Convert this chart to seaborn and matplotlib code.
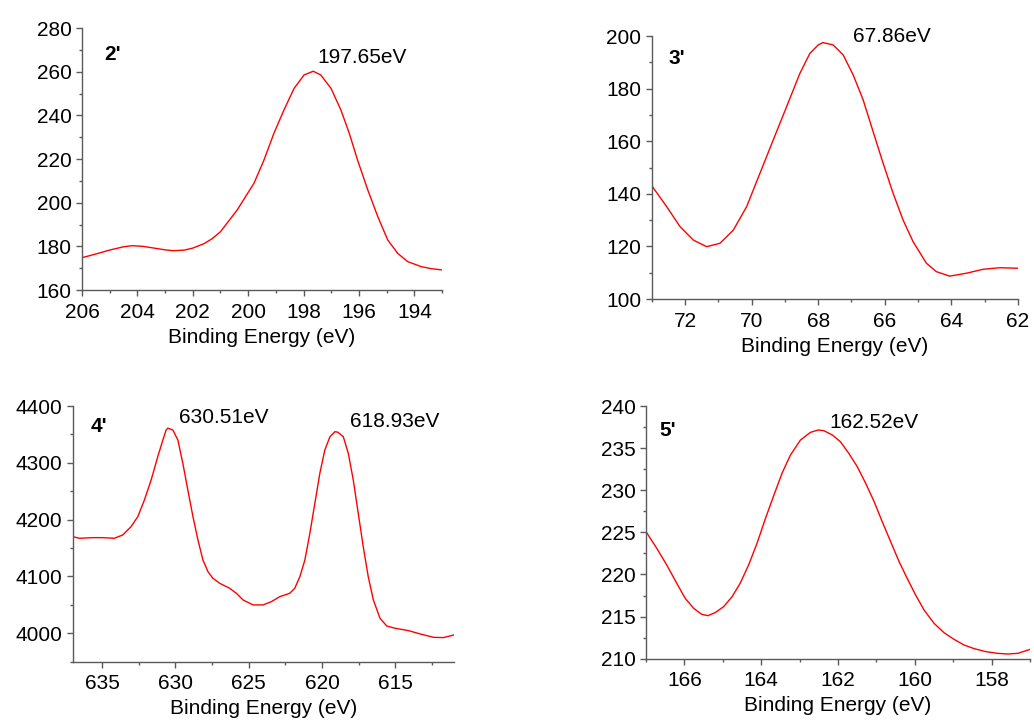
import matplotlib
matplotlib.use("Agg")
import matplotlib.pyplot as plt
from matplotlib.ticker import MultipleLocator
import pandas as pd
import seaborn as sns

sns.set_theme(style="ticks")
plt.rcParams["font.family"] = ["Liberation Sans", "DejaVu Sans"]

# Spectrum 2' (binding energy in eV, intensity)
e2 = [206.0, 205.5, 205.0, 204.5, 204.2, 203.8, 203.4, 203.0, 202.7, 202.3, 202.0,
      201.6, 201.3, 201.0, 200.4, 199.79, 199.43, 199.07, 198.71, 198.34, 197.98,
      197.65, 197.38, 197.01, 196.65, 196.35, 196.05, 195.68, 195.32, 194.96, 194.6,
      194.24, 193.75, 193.4, 193.0]
i2 = [174.8, 176.5, 178.3, 179.8, 180.3, 180.0, 179.2, 178.4, 178.0, 178.3, 179.2,
      181.2, 183.5, 186.7, 196.6, 208.9, 219.5, 231.8, 242.4, 252.4, 258.5,
      260.2, 258.5, 252.4, 242.4, 231.8, 219.5, 205.8, 193.6, 182.9, 176.8,
      173.0, 170.7, 169.8, 169.2]

# Spectrum 3'
e3 = [73.0, 72.55, 72.15, 71.75, 71.35, 70.95, 70.55, 70.15, 69.75, 69.35, 68.95,
      68.55, 68.25, 68.0, 67.86, 67.55, 67.25, 66.95, 66.65, 66.35, 66.05, 65.75,
      65.45, 65.15, 64.75, 64.45, 64.05, 63.55, 63.05, 62.55, 62.0]
i3 = [143.1, 135.1, 127.5, 122.4, 119.9, 121.2, 126.2, 135.1, 147.8, 160.5, 173.1,
      185.8, 193.4, 196.6, 197.5, 196.6, 192.8, 185.2, 175.7, 163.6, 151.6, 140.2,
      130.0, 121.8, 113.6, 110.4, 108.7, 109.8, 111.3, 111.9, 111.7]

# Spectrum 4'
e4 = [637.0, 636.55, 635.64, 634.95, 634.16, 633.59, 633.02, 632.56, 632.11, 631.65,
      631.2, 630.85, 630.63, 630.51, 630.17, 629.83, 629.49, 629.15, 628.8, 628.46,
      628.12, 627.78, 627.44, 626.98, 626.3, 625.84, 625.39, 624.7, 624.02, 623.45,
      622.88, 622.2, 621.86, 621.51, 621.17, 620.83, 620.49, 620.15, 619.81, 619.46,
      619.12, 618.93, 618.55, 618.21, 617.87, 617.53, 617.19, 616.85, 616.5, 616.05,
      615.59, 615.02, 614.11, 613.31, 612.4, 611.72, 611.0]
i4 = [4170.1, 4167.2, 4168.3, 4168.3, 4167.2, 4173.0, 4187.7, 4205.3, 4234.6, 4269.8,
      4310.9, 4340.2, 4357.8, 4361.0, 4357.8, 4340.2, 4299.1, 4252.2, 4205.3, 4164.2,
      4129.0, 4108.5, 4096.8, 4088.0, 4079.2, 4070.4, 4058.7, 4049.9, 4049.9, 4055.7,
      4064.5, 4070.4, 4079.2, 4099.7, 4129.0, 4175.9, 4228.7, 4281.5, 4322.6, 4346.0,
      4354.8, 4354.0, 4346.0, 4316.7, 4269.8, 4211.1, 4152.5, 4099.7, 4058.7, 4026.4,
      4012.9, 4008.8, 4004.7, 3998.8, 3992.9, 3992.4, 3997.1]

# Spectrum 5'
e5 = [167.0, 166.72, 166.46, 166.2, 165.98, 165.76, 165.55, 165.39, 165.2, 164.98,
      164.76, 164.55, 164.33, 164.11, 163.89, 163.67, 163.46, 163.24, 162.98, 162.72,
      162.52, 162.37, 162.15, 161.94, 161.72, 161.5, 161.28, 161.06, 160.85, 160.63,
      160.41, 160.2, 159.98, 159.76, 159.5, 159.24, 158.98, 158.72, 158.45, 158.15,
      157.85, 157.58, 157.32, 157.0]
i5 = [225.08, 223.10, 221.12, 218.95, 217.17, 215.98, 215.27, 215.11, 215.47, 216.18,
      217.36, 218.95, 221.12, 223.70, 226.66, 229.43, 232.01, 234.18, 235.96, 236.87,
      237.15, 237.07, 236.56, 235.77, 234.38, 232.80, 230.82, 228.64, 226.27, 223.89,
      221.52, 219.54, 217.56, 215.78, 214.20, 213.09, 212.30, 211.63, 211.19, 210.84,
      210.64, 210.56, 210.64, 211.11]

panel_tags = ["2'", "3'", "4'", "5'"]
peak_labels = [["197.65eV"], ["67.86eV"], ["630.51eV", "618.93eV"], ["162.52eV"]]

fig = plt.figure(figsize=(10.34, 7.2), dpi=100)

axes_specs = [
    dict(rect=[0.0793, 0.5972, 0.3482, 0.3639], xlim=(206, 193), ylim=(160, 280),
         xmaj=2, xmin=1, ymaj=20, ymin=10, lab=[(197.5, 266.7)], tag=(0.061, 0.90)),
    dict(rect=[0.6303, 0.5847, 0.3542, 0.3653], xlim=(73, 62), ylim=(100, 200),
         xmaj=2, xmin=1, ymaj=20, ymin=10, lab=[(66.96, 200.0)], tag=(0.047, 0.913)),
    dict(rect=[0.0703, 0.0810, 0.3688, 0.3551], xlim=(637, 611), ylim=(3950, 4400),
         xmaj=5, xmin=2.5, ymaj=100, ymin=50,
         lab=[(629.72, 4380), (618.1, 4373)], tag=(0.047, 0.918)),
    dict(rect=[0.6248, 0.0851, 0.3714, 0.3510], xlim=(167, 157), ylim=(210, 240),
         xmaj=2, xmin=1, ymaj=5, ymin=2.5, lab=[(162.22, 238.04)], tag=(0.036, 0.905)),
]

series = [(e2, i2), (e3, i3), (e4, i4), (e5, i5)]
spine_col = "#5a5a5a"
fs = 15

for spec, (ex, iy), tag, labels in zip(axes_specs, series, panel_tags, peak_labels):
    ax = fig.add_axes(spec["rect"])
    df = pd.DataFrame({"Binding Energy (eV)": ex, "Intensity": iy})
    sns.lineplot(data=df, x="Binding Energy (eV)", y="Intensity", ax=ax,
                 color="#ff0000", linewidth=1.0, sort=False)
    ax.set_xlim(*spec["xlim"])
    ax.set_ylim(*spec["ylim"])
    ax.xaxis.set_major_locator(MultipleLocator(spec["xmaj"]))
    ax.xaxis.set_minor_locator(MultipleLocator(spec["xmin"]))
    ax.yaxis.set_major_locator(MultipleLocator(spec["ymaj"]))
    ax.yaxis.set_minor_locator(MultipleLocator(spec["ymin"]))
    for s in ["top", "right"]:
        ax.spines[s].set_visible(False)
    for s in ["left", "bottom"]:
        ax.spines[s].set_color(spine_col)
        ax.spines[s].set_linewidth(1.0)
    ax.tick_params(which="major", length=4.5, width=1.0, color=spine_col,
                   labelsize=fs, labelcolor="black", pad=3)
    ax.tick_params(axis="x", which="major", pad=4.5)
    ax.tick_params(which="minor", length=2.5, width=1.0, color=spine_col)
    ax.set_xlabel("Binding Energy (eV)", fontsize=fs, labelpad=4.5, color="black")
    ax.set_ylabel("")
    ax.patch.set_alpha(0)
    for (lx, ly), txt in zip(spec["lab"], labels):
        ax.text(lx, ly, txt, fontsize=fs, ha="left", va="center", color="black")
    ax.text(spec["tag"][0], spec["tag"][1], tag, transform=ax.transAxes,
            fontsize=fs, fontweight="bold", ha="left", va="center", color="black")

fig.savefig("out.png", dpi=100, facecolor="white")
